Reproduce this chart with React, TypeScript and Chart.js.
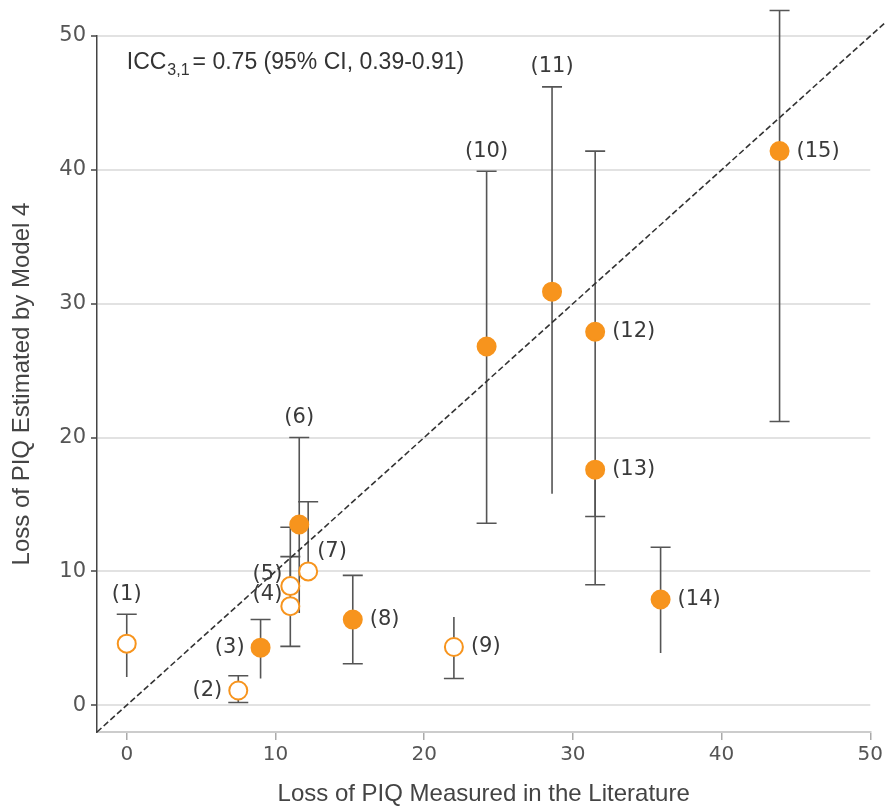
import React, { useEffect, useRef } from "react";
import { Chart, registerables } from "chart.js";

Chart.register(...registerables);

const STUDY_LABELS = ["(1)", "(2)", "(3)", "(4)", "(5)", "(6)", "(7)", "(8)", "(9)", "(10)", "(11)", "(12)", "(13)", "(14)", "(15)"];
const MEASURED = [0, 7.5, 9.0, 11.0, 11.0, 11.6, 12.2, 15.2, 22.0, 24.2, 28.6, 31.5, 31.5, 35.9, 43.9];
const ESTIMATED = [4.6, 1.1, 4.3, 7.4, 8.9, 13.5, 10.0, 6.4, 4.35, 26.8, 30.9, 27.9, 17.6, 7.9, 41.4];
const CI_LOW = [2.1, 0.2, 2.0, 4.4, 8.9, 6.9, 10.0, 3.1, 2.0, 13.6, 15.8, 14.1, 9.0, 3.9, 21.2];
const CI_HIGH = [6.8, 2.2, 6.4, 11.1, 13.3, 20.0, 15.2, 9.7, 6.6, 39.9, 46.2, 41.4, 17.6, 11.8, 51.9];
const CAP_LOW = [false, true, false, true, false, false, false, true, true, true, false, true, true, false, true];
const CAP_HIGH = [true, true, true, true, true, true, true, true, false, true, true, true, false, true, true];
const OPEN_MARKER = [true, true, false, true, true, false, true, false, true, false, false, false, false, false, false];
const LABEL_SIDE = ["above", "left", "left", "upleft", "upleft", "above", "upright", "right", "right", "above", "above", "right", "right", "right", "right"];
const X_TICKS = [0, 10, 20, 30, 40, 50];
const Y_TICKS = [0, 10, 20, 30, 40, 50];
const IDENTITY_ENDS = [-2, 51];

const ORANGE = "#F7941D";
const NARROW = "'Liberation Sans Narrow', 'Liberation Sans', Arial, sans-serif";
const WIDE = "'DejaVu Sans', Verdana, sans-serif";

const errorBarPlugin = {
  id: "errorBars",
  beforeDatasetsDraw(chart: any) {
    const { ctx, scales } = chart;
    const xs = scales.x;
    const ys = scales.y;
    ctx.save();
    ctx.strokeStyle = "#555";
    ctx.lineWidth = 1.6;
    const half = 10;
    for (let i = 0; i < MEASURED.length; i++) {
      const px = xs.getPixelForValue(MEASURED[i]);
      const pLo = ys.getPixelForValue(CI_LOW[i]);
      const pHi = ys.getPixelForValue(CI_HIGH[i]);
      ctx.beginPath();
      ctx.moveTo(px, pLo);
      ctx.lineTo(px, pHi);
      if (CAP_LOW[i]) {
        ctx.moveTo(px - half, pLo);
        ctx.lineTo(px + half, pLo);
      }
      if (CAP_HIGH[i]) {
        ctx.moveTo(px - half, pHi);
        ctx.lineTo(px + half, pHi);
      }
      ctx.stroke();
    }
    ctx.restore();
  },
};

const labelPlugin = {
  id: "studyLabels",
  afterDatasetsDraw(chart: any) {
    const { ctx, scales } = chart;
    const xs = scales.x;
    const ys = scales.y;
    ctx.save();
    ctx.fillStyle = "#3a3a3a";
    ctx.font = `21px ${WIDE}`;
    ctx.textBaseline = "middle";
    for (let i = 0; i < MEASURED.length; i++) {
      const px = xs.getPixelForValue(MEASURED[i]);
      const py = ys.getPixelForValue(ESTIMATED[i]);
      const side = LABEL_SIDE[i];
      if (side === "above") {
        ctx.textAlign = "center";
        ctx.fillText(STUDY_LABELS[i], px, ys.getPixelForValue(CI_HIGH[i]) - 20);
      } else if (side === "left") {
        ctx.textAlign = "right";
        ctx.fillText(STUDY_LABELS[i], px - 16, py);
      } else if (side === "right") {
        ctx.textAlign = "left";
        ctx.fillText(STUDY_LABELS[i], px + 17, py);
      } else if (side === "upleft") {
        ctx.textAlign = "right";
        ctx.fillText(STUDY_LABELS[i], px - 8, py - 12);
      } else if (side === "upright") {
        ctx.textAlign = "left";
        ctx.fillText(STUDY_LABELS[i], px + 9, py - 20);
      }
    }

    // ICC annotation
    const ax = xs.getPixelForValue(0);
    const ay = ys.getPixelForValue(47.5);
    ctx.textAlign = "left";
    ctx.textBaseline = "alphabetic";
    ctx.fillStyle = "#333";
    ctx.font = `23px ${NARROW}`;
    ctx.fillText("ICC", ax, ay);
    let w = ctx.measureText("ICC").width;
    ctx.font = `16px ${NARROW}`;
    ctx.fillText("3,1", ax + w + 1, ay + 6);
    w += ctx.measureText("3,1").width + 4;
    ctx.font = `23px ${NARROW}`;
    ctx.fillText("= 0.75 (95% CI, 0.39-0.91)", ax + w, ay);
    ctx.restore();
  },
};

export default function App() {
  const ref = useRef<HTMLCanvasElement | null>(null);

  useEffect(() => {
    if (!ref.current) return;
    const points = MEASURED.map((x, i) => ({ x, y: ESTIMATED[i] }));
    const diag = IDENTITY_ENDS.map((v) => ({ x: v, y: v }));
    const chart = new Chart(ref.current, {
      type: "scatter",
      data: {
        datasets: [
          {
            label: "Studies",
            data: points,
            pointRadius: 9,
            pointHoverRadius: 9,
            pointBorderWidth: 2,
            pointBackgroundColor: OPEN_MARKER.map((o) => (o ? "#ffffff" : ORANGE)),
            pointBorderColor: ORANGE,
            clip: false,
          } as any,
          {
            type: "line",
            label: "Identity",
            data: diag,
            borderColor: "#333",
            borderWidth: 1.6,
            borderDash: [6, 3],
            pointRadius: 0,
            fill: false,
            clip: false,
          } as any,
        ],
      },
      options: {
        animation: false,
        responsive: true,
        maintainAspectRatio: false,
        layout: { padding: { left: 0, top: 36, right: 15, bottom: 0 } },
        plugins: { legend: { display: false }, tooltip: { enabled: false } },
        scales: {
          x: {
            type: "linear",
            min: -2,
            max: 50,
            afterBuildTicks: (s: any) => {
              s.ticks = X_TICKS.map((v) => ({ value: v }));
            },
            afterFit: (s: any) => {
              s.height = 79;
            },
            grid: { drawOnChartArea: false, drawTicks: true, tickLength: 8, color: "#aaa", tickColor: "#aaa", lineWidth: 1.5 },
            border: { color: "#ccc", width: 2 },
            ticks: { font: { family: WIDE, size: 20 }, color: "#555", padding: 3 },
            title: { display: true, text: "Loss of PIQ Measured in the Literature", font: { family: NARROW, size: 24 }, color: "#444", padding: { top: 4, bottom: 2 } },
          },
          y: {
            type: "linear",
            min: -2,
            max: 50,
            afterBuildTicks: (s: any) => {
              s.ticks = Y_TICKS.map((v) => ({ value: v }));
            },
            afterFit: (s: any) => {
              s.width = 97;
            },
            grid: { color: "#e2e2e2", lineWidth: 2, drawTicks: true, tickLength: 6, tickColor: "#444", tickWidth: 1.5 },
            border: { color: "#444", width: 1.5 },
            ticks: { font: { family: WIDE, size: 21 }, color: "#555", padding: 5 },
            title: { display: true, text: "Loss of PIQ Estimated by Model 4", font: { family: NARROW, size: 24 }, color: "#444", padding: { top: 8, bottom: 4 } },
          },
        },
      },
      plugins: [errorBarPlugin, labelPlugin],
    });
    return () => chart.destroy();
  }, []);

  return (
    <div style={{ position: "absolute", left: 0, top: 0, width: 886, height: 811, background: "#fff" }}>
      <canvas ref={ref} />
    </div>
  );
}
